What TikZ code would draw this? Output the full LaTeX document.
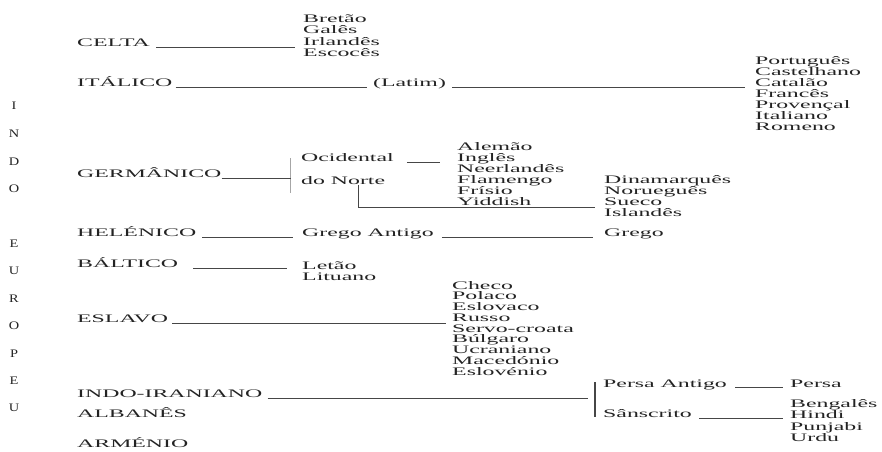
\documentclass[tikz,border=0pt]{standalone}
\usepackage{fontspec}
\setmainfont{Liberation Serif}[FakeStretch=2.07]
\newfontfamily\ltrfont{Liberation Serif}[FakeStretch=1.25]
\usetikzlibrary{calc}
\definecolor{ink}{RGB}{35,35,35}
\definecolor{rulec}{RGB}{70,70,70}
\begin{document}
\begin{tikzpicture}[x=1pt,y=-1pt,
  txt/.style={inner sep=0pt,anchor=base west,text=ink,font=\fontsize{11.5}{12}\selectfont},
  ltr/.style={inner sep=0pt,anchor=base,text=ink,font=\ltrfont\fontsize{11.5}{12}\selectfont},
  ln/.style={draw=rulec,line width=0.75pt},
  gbar/.style={draw=gray!70,line width=1.8pt},
  ibar/.style={draw=rulec,line width=1.1pt}]
\fill[white] (0,0) rectangle (882,451);
\useasboundingbox (0,0) rectangle (882,451);

% vertical INDO EUROPEU
\foreach \c/\yy [count=\i] in {I/109,N/137,D/165,O/192,E/247,U/274,R/302,O/329,P/357,E/384,U/411}
  \node[ltr] (L\i) at (14,\yy) {\c};

% branch labels
\node[txt] (celta) at (77,46) {CELTA};
\node[txt] (ital) at (77,86) {ITÁLICO};
\node[txt] (latim) at (373,86) {(Latim)};
\node[txt] (germ) at (77,177) {GERMÂNICO};
\node[txt] (ocid) at (301,161) {Ocidental};
\node[txt] (norte) at (301,184) {do Norte};
\node[txt] (hel) at (77,236) {HELÉNICO};
\node[txt] (grant) at (302,236) {Grego Antigo};
\node[txt] (grego) at (604,236) {Grego};
\node[txt] (balt) at (77,267) {BÁLTICO};
\node[txt] (letao) at (302,269) {Letão};
\node[txt] (lituano) at (302,280) {Lituano};
\node[txt] (esl) at (77,322) {ESLAVO};
\node[txt] (indo) at (77,397) {INDO-IRANIANO};
\node[txt] (alb) at (77,417) {ALBANÊS};
\node[txt] (arm) at (77,447) {ARMÉNIO};
\node[txt] (pant) at (603,387) {Persa Antigo};
\node[txt] (persa) at (790,387) {Persa};
\node[txt] (sans) at (603,417) {Sânscrito};

% lists
\foreach \w [count=\i from 0] in {Bretão,Galês,Irlandês,Escocês}
  \node[txt] (cel\i) at (303,{22+11.5*\i}) {\w};
\foreach \w [count=\i from 0] in {Português,Castelhano,Catalão,Francês,Provençal,Italiano,Romeno}
  \node[txt] (rom\i) at (755,{64+11*\i}) {\w};
\foreach \w [count=\i from 0] in {Alemão,Inglês,Neerlandês,Flamengo,Frísio,Yiddish}
  \node[txt] (west\i) at (457,{150+11*\i}) {\w};
\foreach \w [count=\i from 0] in {Dinamarquês,Norueguês,Sueco,Islandês}
  \node[txt] (north\i) at (604,{183+11*\i}) {\w};
\foreach \w [count=\i from 0] in {Checo,Polaco,Eslovaco,Russo,Servo-croata,Búlgaro,Ucraniano,Macedónio,Eslovénio}
  \node[txt] (sla\i) at (452,{289+10.75*\i}) {\w};
\foreach \w [count=\i from 0] in {Bengalês,Hindi,Punjabi,Urdu}
  \node[txt] (ind\i) at (790,{407+11.5*\i}) {\w};

% connectors
\draw[ln] ($(celta.base east)+(6,1)$) coordinate (a1) -- ($(a1 -| cel2.west)+(-8,0)$);
\draw[ln] ($(ital.base east)+(3,1)$) coordinate (a2) -- ($(a2 -| latim.west)+(-6,0)$);
\draw[ln] ($(latim.base east)+(6,1)$) coordinate (a3) -- ($(a3 -| rom2.west)+(-10,0)$);

\coordinate (gtop) at (290.5,158);
\coordinate (gbot) at (290.5,193);
\draw[gbar] (gtop) -- (gbot);
\draw[ln] ($(germ.base east)+(0,1)$) coordinate (a4) -- (a4 -| gtop);
\draw[ln] ($(ocid.base east)+(13,1)$) coordinate (a5) -- ($(a5 -| west1.west)+(-17,0)$);
\draw[ln] ($(norte.south)+(15,1)$) |- ($(north2.base west)+(-9,2)$);

\draw[ln] ($(hel.base east)+(6,1)$) coordinate (a6) -- ($(a6 -| grant.west)+(-9,0)$);
\draw[ln] ($(grant.base east)+(8,1)$) coordinate (a7) -- ($(a7 -| grego.west)+(-11,0)$);
\draw[ln] ($(balt.base east)+(15,1)$) coordinate (a8) -- ($(a8 -| letao.west)+(-15,0)$);
\draw[ln] ($(esl.base east)+(4,1)$) coordinate (a9) -- ($(a9 -| sla3.west)+(-6,0)$);

\coordinate (itop) at (595,382);
\coordinate (ibot) at (595,417);
\draw[ibar] (itop) -- (ibot);
\draw[ln] ($(indo.base east)+(5,1)$) coordinate (a10) -- ($(a10 -| itop)+(-7,0)$);
\draw[ln] ($(pant.base east)+(8,0.5)$) coordinate (a11) -- ($(a11 -| persa.west)+(-7,0)$);
\draw[ln] ($(sans.base east)+(7,1)$) coordinate (a12) -- ($(a12 -| ind1.west)+(-7,0)$);
\end{tikzpicture}
\end{document}
